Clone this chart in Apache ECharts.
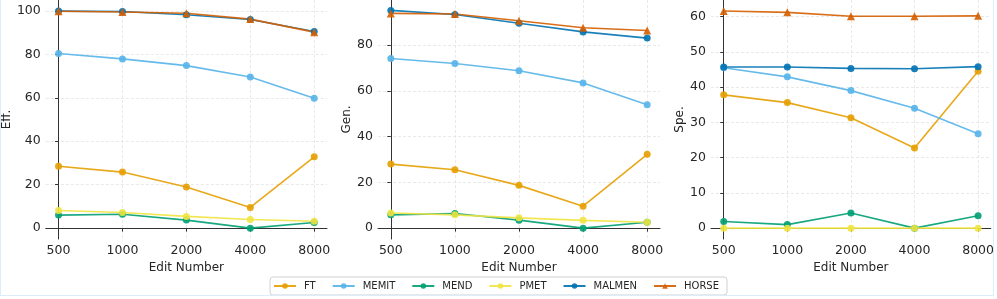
<!DOCTYPE html>
<html>
<head>
<meta charset="utf-8">
<script src="https://cdn.jsdelivr.net/npm/echarts@6/dist/echarts.min.js"></script>
<style>
html,body{margin:0;padding:0;background:#fff;}
#wrap{position:relative;width:997px;height:299px;}
#chart{width:997px;height:299px;}
#frame{position:absolute;left:0;top:-2px;width:994px;height:298px;border:1px solid #dcecf9;border-top:none;pointer-events:none;box-sizing:border-box;}
</style>
</head>
<body>
<div id="wrap"><div id="chart"></div><div id="frame"></div></div>
<script>
const categories = ['500', '1000', '2000', '4000', '8000'];
const methods = ['FT', 'MEMIT', 'MEND', 'PMET', 'MALMEN', 'HORSE'];
const panelNames = ['Eff.', 'Gen.', 'Spe.'];

// Eff.
const effFT     = [28.5, 25.8, 18.9, 9.5, 32.8];
const effMEMIT  = [80.4, 77.9, 74.8, 69.6, 59.8];
const effMEND   = [6.0, 6.4, 3.7, 0.0, 2.6];
const effPMET   = [8.1, 7.2, 5.4, 4.0, 3.2];
const effMALMEN = [99.9, 99.7, 98.2, 96.0, 90.5];
const effHORSE  = [99.8, 99.5, 98.9, 96.2, 90.2];

// Gen.
const genFT     = [28.0, 25.5, 18.7, 9.6, 32.3];
const genMEMIT  = [74.2, 72.0, 68.8, 63.5, 54.0];
const genMEND   = [5.8, 6.4, 3.5, 0.0, 2.6];
const genPMET   = [6.6, 5.8, 4.5, 3.4, 2.6];
const genMALMEN = [95.2, 93.4, 89.6, 85.8, 83.1];
const genHORSE  = [93.9, 93.6, 90.7, 87.6, 86.4];

// Spe.
const speFT     = [37.8, 35.6, 31.3, 22.7, 44.5];
const speMEMIT  = [45.5, 42.9, 39.0, 34.0, 26.8];
const speMEND   = [1.9, 1.0, 4.3, 0.0, 3.5];
const spePMET   = [0.0, 0.0, 0.0, 0.0, 0.0];
const speMALMEN = [45.7, 45.7, 45.3, 45.2, 45.8];
const speHORSE  = [61.6, 61.2, 60.1, 60.1, 60.2];

const yTicksEff = [0, 20, 40, 60, 80, 100];
const yTicksGen = [0, 20, 40, 60, 80];
const yTicksSpe = [0, 10, 20, 30, 40, 50, 60];

const panels = [
  [effFT, effMEMIT, effMEND, effPMET, effMALMEN, effHORSE],
  [genFT, genMEMIT, genMEND, genPMET, genMALMEN, genHORSE],
  [speFT, speMEMIT, speMEND, spePMET, speMALMEN, speHORSE]
];
const yTicks = [yTicksEff, yTicksGen, yTicksSpe];

const colors = ['#E69F00', '#56B4E9', '#009E73', '#F0E442', '#0072B2', '#D55E00'];
const symbols = ['circle', 'circle', 'circle', 'circle', 'circle', 'triangle'];
const yRange = [[-5, 105], [-4.75, 99.75], [-3.08, 64.7]];
const gridLeft = [45, 378, 711];
const nameGaps = [32, 24, 23];

const font = 'DejaVu Sans';
const txt = '#262626';
const xTickVals = categories.map((c, i) => i);

const grids = [], xAxes = [], yAxes = [], series = [];
for (let p = 0; p < 3; p++) {
  grids.push({ left: gridLeft[p], top: 0, width: 282, height: 239 });
  xAxes.push({
    type: 'value', gridIndex: p, min: -0.2, max: 4.2,
    name: 'Edit Number', nameLocation: 'middle', nameGap: 16,
    nameTextStyle: { fontFamily: font, fontSize: 12, color: txt },
    axisLine: { show: true, lineStyle: { color: '#333', width: 1 } },
    axisTick: { show: true, length: 3.5, customValues: xTickVals, lineStyle: { color: '#333' } },
    axisLabel: { customValues: xTickVals, formatter: v => categories[Math.round(v)], fontFamily: font, fontSize: 12.5, color: txt, margin: 5 },
    splitLine: { show: true, lineStyle: { color: '#e3e3e3', type: [3, 2], width: 0.8 } }
  });
  yAxes.push({
    type: 'value', gridIndex: p, min: yRange[p][0], max: yRange[p][1],
    name: panelNames[p], nameLocation: 'middle', nameGap: nameGaps[p],
    nameTextStyle: { fontFamily: font, fontSize: 12, color: txt },
    axisLine: { show: true, lineStyle: { color: '#333', width: 1 } },
    axisTick: { show: true, length: 3.5, customValues: yTicks[p], lineStyle: { color: '#333' } },
    axisLabel: { customValues: yTicks[p], fontFamily: font, fontSize: 12.5, color: txt, margin: 5 },
    splitLine: { show: true, lineStyle: { color: '#e3e3e3', type: [3, 2], width: 0.8 } }
  });
  for (let m = 0; m < methods.length; m++) {
    series.push({
      type: 'line', name: methods[m], xAxisIndex: p, yAxisIndex: p,
      data: panels[p][m].map((v, i) => [i, v]),
      symbol: symbols[m], symbolSize: symbols[m] === 'triangle' ? 8 : 7,
      showSymbol: true, animation: false,
      itemStyle: { color: colors[m], opacity: 0.9 },
      lineStyle: { color: colors[m], width: 1.6, opacity: 0.9 },
      emphasis: { disabled: true }
    });
  }
}

const chart = echarts.init(document.getElementById('chart'), null, { renderer: 'canvas' });
chart.setOption({
  animation: false,
  backgroundColor: '#fff',
  grid: grids, xAxis: xAxes, yAxis: yAxes, series: series,
  legend: {
    data: methods, left: 270, top: 277, width: 470,
    itemWidth: 22, itemHeight: 7, itemGap: 16, padding: [4, 8, 4, 3],
    borderColor: '#d0d0d0', borderWidth: 1, borderRadius: 3,
    textStyle: { fontFamily: font, fontSize: 10, color: txt, padding: [0, 0, 0, 3] }
  }
});
</script>
</body>
</html>
